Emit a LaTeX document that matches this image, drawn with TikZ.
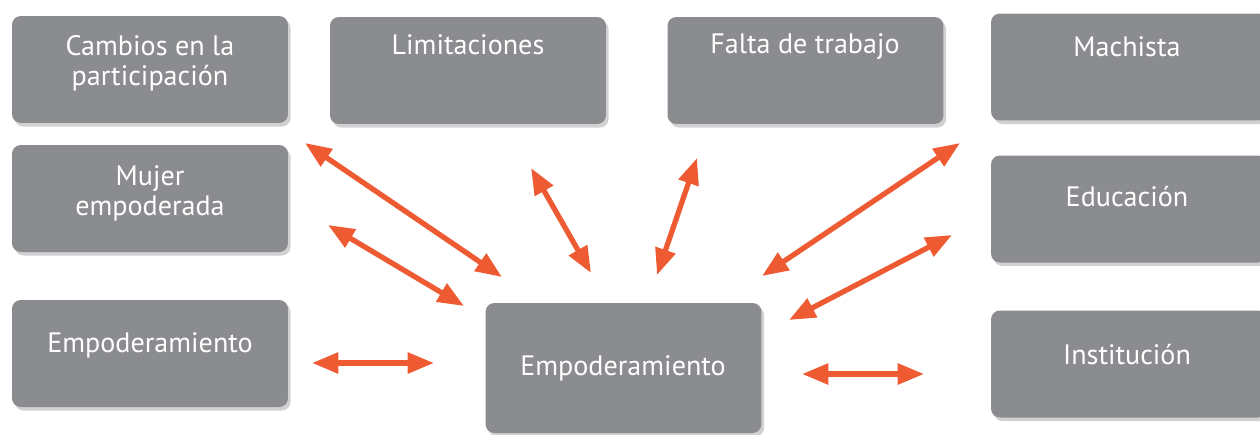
\documentclass[tikz,border=0pt]{standalone}
\usepackage{fontspec}
\setmainfont{PT Sans}
\usetikzlibrary{arrows.meta}
\usetikzlibrary{shadows}
\definecolor{boxgray}{HTML}{8B8C8F}
\definecolor{arroworange}{HTML}{EE5B32}
\tikzset{
  box/.style={fill=boxgray, rounded corners=5pt, minimum width=5.52cm,
    minimum height=2.14cm, inner sep=0pt,
    drop shadow={shadow xshift=1.5pt, shadow yshift=-2pt, fill=black!40, opacity=0.45}},
  txt/.style={text=white, font=\fontsize{16}{17}\selectfont, align=center},
  link/.style={draw=arroworange, line width=3pt,
    {Triangle[length=15pt,width=11.5pt]}-{Triangle[length=15pt,width=11.5pt]}}
}
\begin{document}
\begin{tikzpicture}[x=0.02cm,y=-0.02cm]
    \useasboundingbox (0,0) rectangle (1260,434);
    \clip (0,0) rectangle (1260,434);
    % boxes
    \node[box] (cam) at (150,69.5) {};
    \node[box] (lim) at (468,70.5) {};
    \node[box] (fal) at (805.5,70.5) {};
    \node[box] (mac) at (1129,67) {};
    \node[box] (muj) at (150,198.5) {};
    \node[box] (edu) at (1129,209) {};
    \node[box] (empl) at (150,353.5) {};
    \node[box, minimum height=2.6cm] (empc) at (623.5,368) {};
    \node[box] (ins) at (1129,364) {};
    % texts
    \node[txt] (camt) at (150,63) {Cambios en la\\participación};
    \node[txt] (limt) at (468,45) {Limitaciones};
    \node[txt] (falt) at (805,47) {Falta de trabajo};
    \node[txt] (mact) at (1127,47) {Machista};
    \node[txt] (mujt) at (150,193) {Mujer\\empoderada};
    \node[txt] (edut) at (1127,197) {Educación};
    \node[txt] (emplt) at (150,345) {Empoderamiento};
    \node[txt] (empct) at (623,368) {Empoderamiento};
    \node[txt] (inst) at (1127,355) {Institución};
    % arrow ends
    \coordinate (camA) at (305,143);
    \coordinate (camB) at (502,277);
    \coordinate (mujA) at (328,225);
    \coordinate (mujB) at (464,306);
    \coordinate (emplA) at (312,363);
    \coordinate (emplB) at (434,363);
    \coordinate (limA) at (531,168);
    \coordinate (limB) at (591,273);
    \coordinate (falA) at (697,158);
    \coordinate (falB) at (657,275);
    \coordinate (macA) at (960,143);
    \coordinate (macB) at (762,276);
    \coordinate (eduA) at (952,235);
    \coordinate (eduB) at (789,320);
    \coordinate (insA) at (802,374);
    \coordinate (insB) at (924,374);
    \draw[link] (camA) -- (camB);
    \draw[link] (mujA) -- (mujB);
    \draw[link] (emplA) -- (emplB);
    \draw[link] (limA) -- (limB);
    \draw[link] (falA) -- (falB);
    \draw[link] (macA) -- (macB);
    \draw[link] (eduA) -- (eduB);
    \draw[link] (insA) -- (insB);
\end{tikzpicture}
\end{document}
